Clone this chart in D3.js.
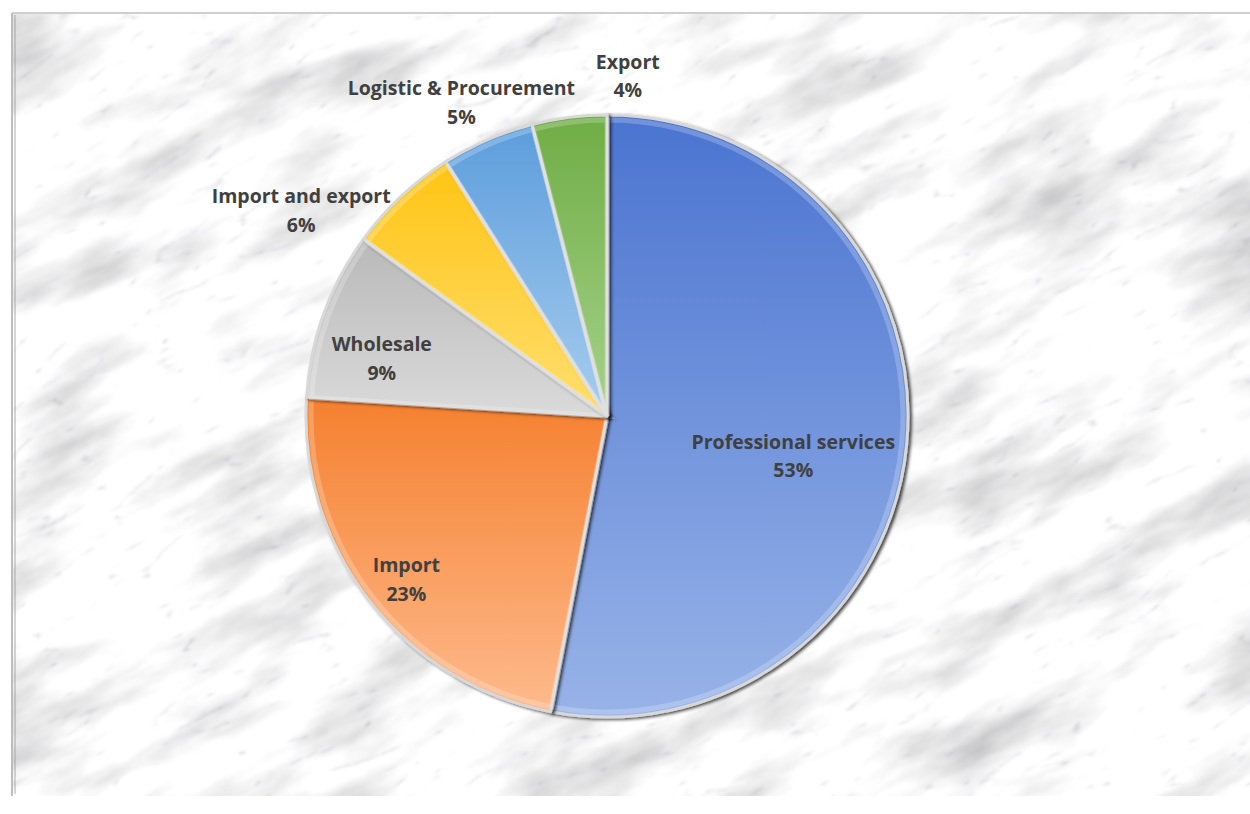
<!DOCTYPE html>
<html><head><meta charset="utf-8">
<script src="https://cdn.jsdelivr.net/npm/d3@7/dist/d3.min.js"></script>
<style>html,body{margin:0;padding:0;background:#fff;overflow:hidden}</style>
</head><body>
<svg id="chart" width="1250" height="814"></svg>
<script>
// ---- data ----
const categories = ["Professional services", "Import", "Wholesale", "Import and export", "Logistic & Procurement", "Export"];
const values = [53, 23, 9, 6, 5, 4];
const percentLabels = ["53%", "23%", "9%", "6%", "5%", "4%"];
const colorsTop = ["#4a74d0", "#f5802f", "#b9b9b9", "#ffc414", "#5c9ddc", "#6fad45"];
const colorsBottom = ["#98b3e8", "#feba8c", "#dadada", "#ffdf70", "#a8cdee", "#a6d28a"];

// ---- layout (not data) ----
const W = 1250, H = 814;
const cx = 607, cy = 416, R = 301;
const labelRadius = [0.633, 0.86, 0.772, 1.224, 1.149, 1.131];
const labelAngleShift = [6.7, -1.4, -5.5, -12.9, -1.5, 10.7];
const lineGap = 28.5;

const svg = d3.select("#chart");
const defs = svg.append("defs");

// marble texture: mottled noise multiplied by veins
const mf = defs.append("filter").attr("id", "marble").attr("x", 0).attr("y", 0).attr("width", 1).attr("height", 1);
mf.append("feTurbulence").attr("type", "fractalNoise").attr("baseFrequency", "0.006 0.02").attr("numOctaves", 5).attr("seed", 3).attr("result", "n");
mf.append("feColorMatrix").attr("in", "n").attr("type", "matrix")
  .attr("values", "1.1 0 0 0 0.42  1.1 0 0 0 0.42  1.1 0 0 0 0.43  0 0 0 0 1").attr("result", "mott");
mf.append("feTurbulence").attr("type", "turbulence").attr("baseFrequency", "0.008 0.03").attr("numOctaves", 4).attr("seed", 11).attr("result", "t");
mf.append("feColorMatrix").attr("in", "t").attr("type", "matrix")
  .attr("values", "2.6 0 0 0 0.72  2.6 0 0 0 0.72  2.6 0 0 0 0.73  0 0 0 0 1").attr("result", "veins");
mf.append("feBlend").attr("in", "mott").attr("in2", "veins").attr("mode", "multiply").attr("result", "b");
mf.append("feGaussianBlur").attr("in", "b").attr("stdDeviation", 0.9);

const clip = defs.append("clipPath").attr("id", "frameClip");
clip.append("rect").attr("x", 12).attr("y", 13).attr("width", W - 12).attr("height", 783);

const bg = svg.append("g").attr("clip-path", "url(#frameClip)");
bg.append("rect").attr("x", 0).attr("y", 0).attr("width", W).attr("height", H).attr("fill", "#eeeeee");
bg.append("rect").attr("x", -300).attr("y", -400).attr("width", 1900).attr("height", 1700)
  .attr("filter", "url(#marble)")
  .attr("transform", `rotate(-28 ${W/2} ${H/2})`);
// frame bevel
svg.append("line").attr("x1", 12).attr("x2", W).attr("y1", 13).attr("y2", 13).attr("stroke", "#cfcfcf").attr("stroke-width", 2);
svg.append("line").attr("x1", 12).attr("x2", 12).attr("y1", 13).attr("y2", 796).attr("stroke", "#bdbdbd").attr("stroke-width", 2);
svg.append("line").attr("x1", 15).attr("x2", 15).attr("y1", 15).attr("y2", 794).attr("stroke", "#9a9a9a").attr("stroke-width", 1.2).attr("opacity", 0.7);

// per-slice vertical gradients relative to slice bounding box
categories.forEach((c, i) => {
  const g = defs.append("linearGradient").attr("id", "sgrad" + i)
    .attr("x1", 0).attr("y1", 0).attr("x2", 0).attr("y2", 1);
  g.append("stop").attr("offset", "0%").attr("stop-color", colorsTop[i]);
  g.append("stop").attr("offset", "100%").attr("stop-color", colorsBottom[i]);
});

const sh = defs.append("filter").attr("id", "shadow").attr("x", "-10%").attr("y", "-10%").attr("width", "120%").attr("height", "120%");
sh.append("feDropShadow").attr("dx", 2.5).attr("dy", 1.5).attr("stdDeviation", 1.6).attr("flood-color", "#000").attr("flood-opacity", 0.7);

const pie = d3.pie().value(d => d).sort(null);
const arcs = pie(values);
const arc = d3.arc().innerRadius(0).outerRadius(R);
const innerArc = d3.arc().innerRadius(0).outerRadius(R - 5);

const gp = svg.append("g").attr("transform", `translate(${cx},${cy})`);
const slices = gp.selectAll("g.slice").data(arcs).enter().append("g").attr("class", "slice")
  .attr("filter", "url(#shadow)");
slices.append("path").attr("d", arc)
  .attr("fill", (d, i) => `url(#sgrad${i})`)
  .attr("stroke", "#d8d8d8").attr("stroke-width", 3).attr("stroke-linejoin", "round");
slices.append("path").attr("d", innerArc)
  .attr("fill", "none").attr("stroke", "#ffffff").attr("stroke-opacity", 0.22).attr("stroke-width", 5);

// labels
const lg = svg.append("g").attr("font-family", "'Open Sans', sans-serif")
  .attr("font-weight", "bold").attr("font-size", 19.5).attr("fill", "#404040").attr("text-anchor", "middle");
arcs.forEach((d, i) => {
  const mid = (d.startAngle + d.endAngle) / 2 + labelAngleShift[i] * Math.PI / 180;
  const r = labelRadius[i] * R;
  const x = cx + r * Math.sin(mid);
  const y = cy - r * Math.cos(mid);
  const t = lg.append("text").attr("x", x).attr("y", y - lineGap / 2 + 7);
  t.append("tspan").attr("x", x).text(categories[i]);
  t.append("tspan").attr("x", x).attr("dy", lineGap).text(percentLabels[i]);
});
</script>
</body></html>
